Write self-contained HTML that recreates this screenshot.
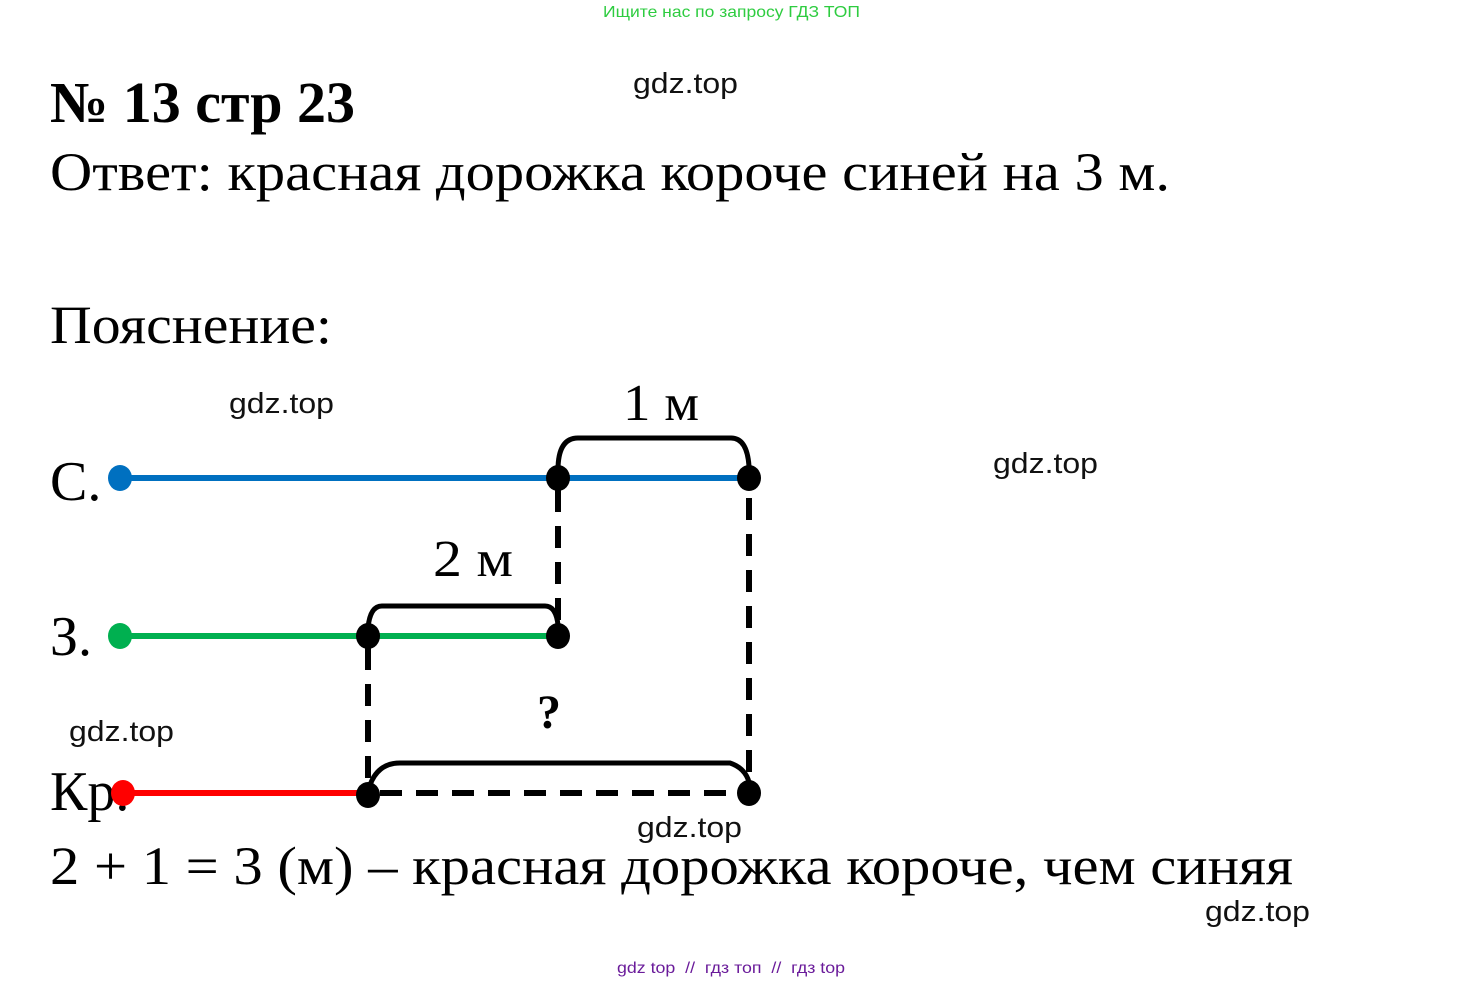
<!DOCTYPE html>
<html><head><meta charset="utf-8"><style>
html,body{margin:0;padding:0;background:#fff;}
svg{display:block;}
.s{font-family:"Liberation Serif","Noto Serif CJK SC",serif;fill:#000;}
.w{font-family:"Liberation Sans",sans-serif;fill:#111;font-size:29px;}
</style></head><body>
<svg width="1465" height="982" viewBox="0 0 1465 982" xmlns="http://www.w3.org/2000/svg">
<text x="603" y="17" font-family="Liberation Sans,sans-serif" font-size="16" fill="#2ecc40" textLength="257" lengthAdjust="spacingAndGlyphs">Ищите нас по запросу ГДЗ ТОП</text>
<text class="s" x="50" y="122" font-size="58" font-weight="bold" textLength="305" lengthAdjust="spacingAndGlyphs">№ 13 стр 23</text>
<text class="w" x="633" y="93" textLength="105" lengthAdjust="spacingAndGlyphs">gdz.top</text>
<text class="s" x="50" y="190" font-size="54" textLength="1120" lengthAdjust="spacingAndGlyphs">Ответ: красная дорожка короче синей на 3 м.</text>
<text class="s" x="50" y="343" font-size="54" textLength="282" lengthAdjust="spacingAndGlyphs">Пояснение:</text>
<text class="w" x="229" y="413" textLength="105" lengthAdjust="spacingAndGlyphs">gdz.top</text>
<text class="w" x="993" y="473" textLength="105" lengthAdjust="spacingAndGlyphs">gdz.top</text>
<text class="w" x="69" y="741" textLength="105" lengthAdjust="spacingAndGlyphs">gdz.top</text>
<text class="w" x="637" y="837" textLength="105" lengthAdjust="spacingAndGlyphs">gdz.top</text>
<text class="w" x="1205" y="921" textLength="105" lengthAdjust="spacingAndGlyphs">gdz.top</text>

<text class="s" x="623" y="420" font-size="52" textLength="76" lengthAdjust="spacingAndGlyphs">1 м</text>
<text class="s" x="433" y="576" font-size="52" textLength="80" lengthAdjust="spacingAndGlyphs">2 м</text>
<text class="s" x="537" y="728" font-size="48" font-weight="bold">?</text>

<text class="s" x="50" y="500" font-size="56">С.</text>
<text class="s" x="50" y="655" font-size="56">З.</text>
<text class="s" x="50" y="810" font-size="56">Кр.</text>

<g stroke-width="6" fill="none">
<line x1="120" y1="478" x2="749" y2="478" stroke="#0070c0"/>
<line x1="120" y1="636" x2="558" y2="636" stroke="#00b050"/>
<line x1="123" y1="793" x2="368" y2="793" stroke="#ff0000"/>
</g>
<g stroke="#000" stroke-width="6" fill="none" stroke-dasharray="22,14">
<line x1="558" y1="490" x2="558" y2="630"/>
<line x1="368" y1="648" x2="368" y2="790"/>
<line x1="749" y1="498" x2="749" y2="790"/>
<line x1="380" y1="793" x2="745" y2="793"/>
</g>
<g stroke="#000" stroke-width="5" fill="none">
<path d="M558 470 Q558 438 578 438 L731 438 Q747 438 749 466"/>
<path d="M368 628 Q370 606 382 606 L545 606 Q556 606 558 625"/>
<path d="M370 785 Q378 763 400 763 L730 763 Q745 768 749 782"/>
</g>
<g fill="#000">
<ellipse cx="558" cy="478" rx="12" ry="13"/>
<ellipse cx="749" cy="478" rx="12" ry="13"/>
<ellipse cx="368" cy="636" rx="12" ry="13"/>
<ellipse cx="558" cy="636" rx="12" ry="13"/>
<ellipse cx="368" cy="795" rx="12" ry="13"/>
<ellipse cx="749" cy="793" rx="12" ry="13"/>
</g>
<ellipse cx="120" cy="478" rx="12" ry="13" fill="#0070c0"/>
<ellipse cx="120" cy="636" rx="12" ry="13" fill="#00b050"/>
<ellipse cx="123" cy="793" rx="12" ry="13" fill="#ff0000"/>

<text class="s" x="50" y="884" font-size="54" textLength="1243" lengthAdjust="spacingAndGlyphs">2 + 1 = 3 (м) – красная дорожка короче, чем синяя</text>
<text x="617" y="973" font-family="Liberation Sans,sans-serif" font-size="16" fill="#6a1b9a" textLength="228" lengthAdjust="spacingAndGlyphs" xml:space="preserve">gdz top  //  гдз топ  //  гдз top</text>
</svg>
</body></html>
